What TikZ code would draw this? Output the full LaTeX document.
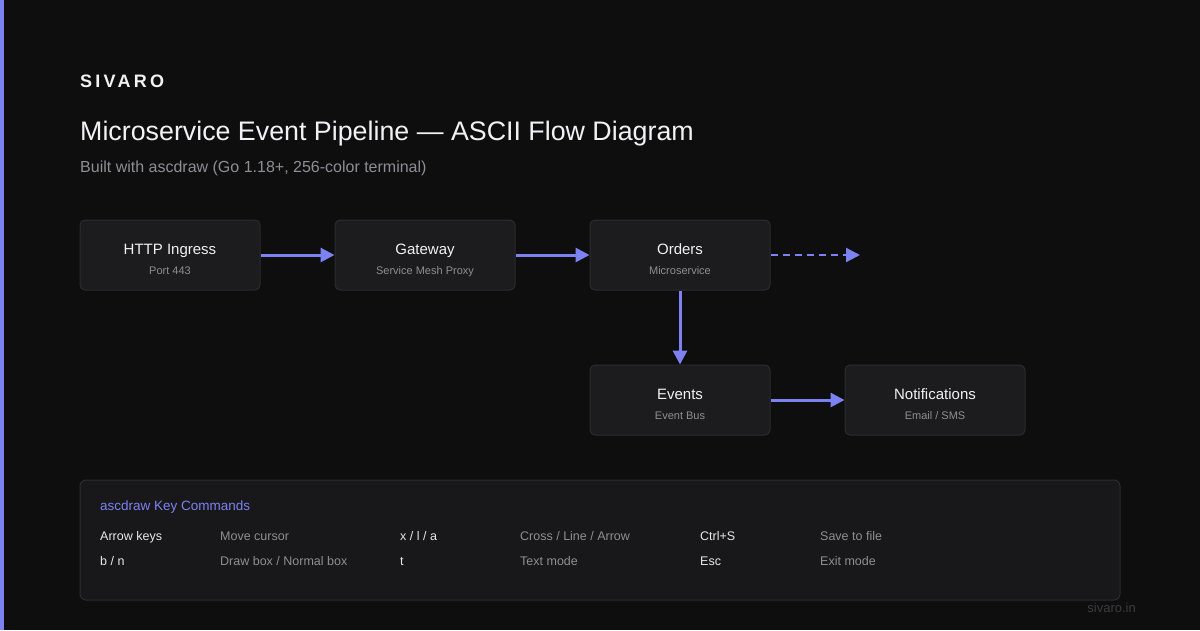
\documentclass[tikz,border=0pt]{standalone}
\usepackage{fontspec}
\setmainfont{Liberation Sans}
\usetikzlibrary{arrows.meta}
\definecolor{bg}{HTML}{0E0E0F}
\definecolor{accent}{HTML}{7D82F2}
\definecolor{boxfill}{HTML}{1C1C1E}
\definecolor{boxline}{HTML}{2C2C2F}
\definecolor{panelfill}{HTML}{18181A}
\definecolor{txtmain}{HTML}{F2F2F4}
\definecolor{txtsub}{HTML}{8E8E94}
\definecolor{txtkey}{HTML}{E8E8EA}
\definecolor{txtfoot}{HTML}{3C3C40}
\tikzset{
  flowbox/.style={draw=boxline, line width=1pt, fill=boxfill, rounded corners=5pt, minimum width=180pt, minimum height=70pt, inner sep=0pt},
  boxtitle/.style={anchor=base, text=txtmain, font=\fontsize{15}{18}\selectfont, inner sep=0pt},
  boxsub/.style={anchor=base, text=txtsub, font=\fontsize{11}{13}\selectfont, inner sep=0pt},
  flow/.style={draw=accent, line width=3pt, -{Triangle[length=14pt,width=14pt]}},
  keytxt/.style={anchor=base west, text=txtkey, font=\fontsize{12.5}{15}\selectfont, inner sep=0pt},
  desctxt/.style={anchor=base west, text=txtsub, font=\fontsize{12.5}{15}\selectfont, inner sep=0pt},
}
\begin{document}
\begin{tikzpicture}[x=1pt,y=-1pt]
\fill[bg] (0,0) rectangle (1200,630);
\useasboundingbox (0,0) rectangle (1200,630);
\fill[accent] (0,0) rectangle (4,630);

\node[anchor=base west, inner sep=0pt, text=txtmain, font=\fontsize{18}{20}\selectfont\bfseries\addfontfeature{LetterSpace=18}] (brand) at (80,87) {SIVARO};
\node[anchor=base west, inner sep=0pt, text=txtmain, font=\fontsize{26.8}{31}\selectfont] (title) at (80,140) {Microservice Event Pipeline — ASCII Flow Diagram};
\node[anchor=base west, inner sep=0pt, text=txtsub, font=\fontsize{16}{19}\selectfont] (subtitle) at (80,172) {Built with ascdraw (Go 1.18+, 256-color terminal)};

\node[flowbox] (http) at (170,255) {};
\node[flowbox] (gw) at (425,255) {};
\node[flowbox] (orders) at (680,255) {};
\node[flowbox] (events) at (680,400) {};
\node[flowbox] (notif) at (935,400) {};

\foreach \n/\t/\s in {http/{HTTP Ingress}/{Port 443}, gw/{Gateway}/{Service Mesh Proxy}, orders/{Orders}/{Microservice}, events/{Events}/{Event Bus}, notif/{Notifications}/{Email / SMS}}{
  \node[boxtitle] (\n-t) at ([yshift=1pt]\n.center) {\t};
  \node[boxsub] (\n-s) at ([yshift=-19pt]\n.center) {\s};
}

\coordinate (dashend) at (860,255);
\draw[flow] (http.east) -- (gw.west);
\draw[flow] (gw.east) -- (orders.west);
\draw[flow, line width=2.2pt, dash pattern=on 7pt off 5pt] (orders.east) -- (dashend);
\draw[flow] (orders.south) -- (events.north);
\draw[flow] (events.east) -- (notif.west);

\node[draw=boxline, line width=1pt, fill=panelfill, rounded corners=6pt, minimum width=1040pt, minimum height=120pt, inner sep=0pt] (panel) at (600,540) {};
\node[anchor=base west, inner sep=0pt, text=accent, font=\fontsize{13.5}{16}\selectfont] (ptitle) at (100,510) {ascdraw Key Commands};

\node[keytxt] (k1) at (100,540) {Arrow keys};
\node[desctxt] (d1) at (220,540) {Move cursor};
\node[keytxt] (k2) at (400,540) {x / l / a};
\node[desctxt] (d2) at (520,540) {Cross / Line / Arrow};
\node[keytxt] (k3) at (700,540) {Ctrl+S};
\node[desctxt] (d3) at (820,540) {Save to file};
\node[keytxt] (k4) at (100,565) {b / n};
\node[desctxt] (d4) at (220,565) {Draw box / Normal box};
\node[keytxt] (k5) at (400,565) {t};
\node[desctxt] (d5) at (520,565) {Text mode};
\node[keytxt] (k6) at (700,565) {Esc};
\node[desctxt] (d6) at (820,565) {Exit mode};

\node[anchor=base east, inner sep=0pt, text=txtfoot, font=\fontsize{13}{15}\selectfont] (foot) at (1136,612) {sivaro.in};
\end{tikzpicture}
\end{document}
